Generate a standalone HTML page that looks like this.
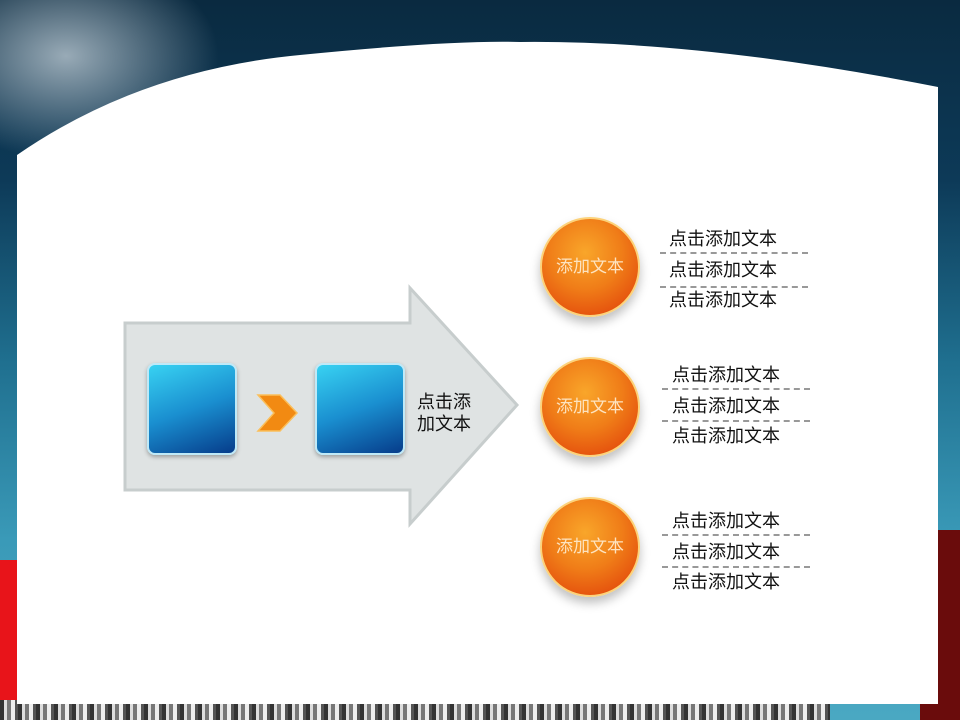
<!DOCTYPE html>
<html><head><meta charset="utf-8"><style>
body{margin:0;width:960px;height:720px;overflow:hidden;position:relative;font-family:"Liberation Sans","Noto Sans CJK SC",sans-serif;
background:linear-gradient(180deg,#0a2a40 0%,#0d3a58 25%,#1f6f8f 50%,#3a9ab8 75%,#4aa8c2 100%);}
.abs{position:absolute}
.t{position:absolute;font-size:18px;color:#111;white-space:nowrap}
.d{position:absolute;height:0;border-top:2px dashed #999;width:148px}
.c{position:absolute;width:100px;height:100px;border-radius:50%;background:radial-gradient(circle at 45% 35%,#f9a62a 0%,#f07d18 45%,#e34a0c 85%,#f7b050 100%);box-shadow:0 6px 10px rgba(0,0,0,.25);border:2px solid #fcd27a;box-sizing:border-box;color:#fde3c0;font-size:17px;line-height:96px;text-align:center}
.sq{position:absolute;width:90px;height:92px;border-radius:8px;background:linear-gradient(160deg,#38d2f2 0%,#1a8fd0 50%,#063c8a 100%);border:2px solid #bfe9f7;box-sizing:border-box;box-shadow:0 2px 4px rgba(0,0,0,.3)}
</style></head><body>
<div class="abs" style="left:0;top:0;width:220px;height:160px;background:radial-gradient(ellipse at 30% 35%,rgba(200,212,220,.75),rgba(200,215,225,0) 70%)"></div>
<div class="abs" style="left:0;top:560px;width:30px;height:140px;background:#e8141a"></div>
<div class="abs" style="left:920px;top:530px;width:40px;height:190px;background:#6a0c0c"></div>
<div class="abs" style="left:0;top:700px;width:830px;height:20px;background:repeating-linear-gradient(90deg,#333 0 4px,#ddd 4px 7px,#777 7px 11px,#eee 11px 15px,#555 15px 18px)"></div>
<svg class="abs" style="left:0;top:0" width="960" height="720">
<path d="M17,155 Q140,70 300,55 Q450,40 520,42 Q700,40 938,87 L938,704 L17,704 Z" fill="#fff"/>
<path d="M125,323 L410,323 L410,288 L517,405 L410,524 L410,490 L125,490 Z" fill="#dfe3e3" stroke="#c7cdcd" stroke-width="3"/>
<path d="M258,395 L280,395 L297,413 L280,431 L258,431 L274,413 Z" fill="#f28a12" stroke="#fbbf5a" stroke-width="1.5"/>
</svg>
<div class="sq" style="left:147px;top:363px"></div>
<div class="sq" style="left:315px;top:363px"></div>
<div class="t" style="left:417px;top:391px;line-height:22px">点击添<br>加文本</div>
<div class="c" style="left:540px;top:217px">添加文本</div>
<div class="c" style="left:540px;top:357px">添加文本</div>
<div class="c" style="left:540px;top:497px">添加文本</div>
<div class="t" style="left:669px;top:225px">点击添加文本</div>
<div class="d" style="left:660px;top:252px"></div>
<div class="t" style="left:669px;top:256px">点击添加文本</div>
<div class="d" style="left:660px;top:286px"></div>
<div class="t" style="left:669px;top:286px">点击添加文本</div>
<div class="t" style="left:672px;top:361px">点击添加文本</div>
<div class="d" style="left:662px;top:388px"></div>
<div class="t" style="left:672px;top:392px">点击添加文本</div>
<div class="d" style="left:662px;top:420px"></div>
<div class="t" style="left:672px;top:422px">点击添加文本</div>
<div class="t" style="left:672px;top:507px">点击添加文本</div>
<div class="d" style="left:662px;top:534px"></div>
<div class="t" style="left:672px;top:538px">点击添加文本</div>
<div class="d" style="left:662px;top:566px"></div>
<div class="t" style="left:672px;top:568px">点击添加文本</div>
</body></html>
